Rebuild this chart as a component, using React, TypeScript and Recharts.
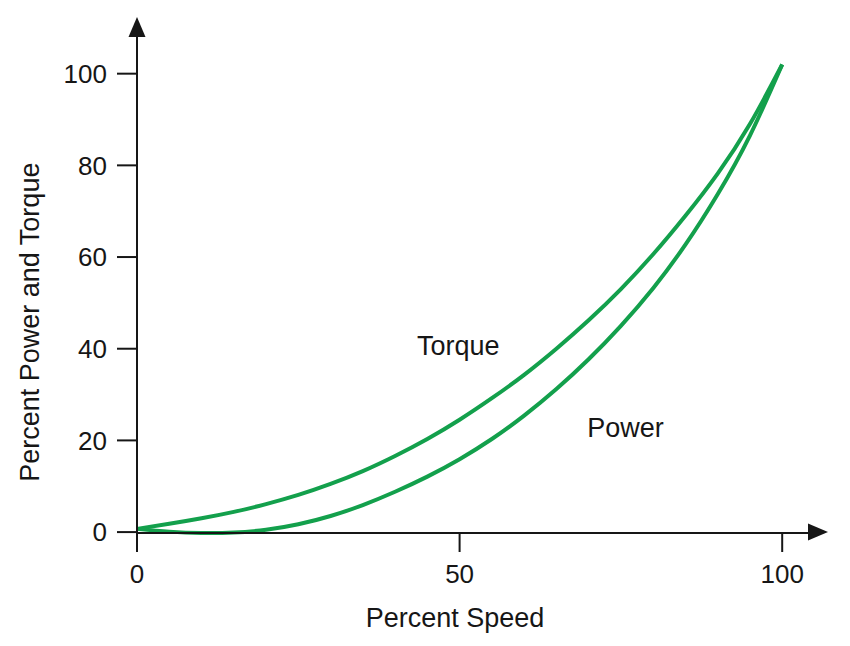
import React from "react";
import {
  LineChart,
  Line,
  XAxis,
  YAxis,
  ReferenceDot,
} from "recharts";

// values
const speed = [0, 5, 10, 15, 20, 25, 30, 35, 40, 45, 50, 55, 60, 65, 70, 75, 80, 85, 90, 95, 100];
const torque = [0.7, 1.8, 3.0, 4.4, 6.1, 8.1, 10.5, 13.3, 16.6, 20.3, 24.5, 29.2, 34.3, 40.0, 46.2, 53.0, 60.6, 69.0, 78.2, 89.0, 102];
const power = [0.7, 0.1, -0.2, -0.1, 0.5, 1.7, 3.5, 5.9, 8.8, 12.1, 15.9, 20.3, 25.4, 31.2, 37.7, 45.0, 53.2, 62.7, 73.7, 86.5, 102];

const xTicks = [0, 50, 100];
const yTicks = [0, 20, 40, 60, 80, 100];

const data = speed.map((s, i) => ({ speed: s, torque: torque[i], power: power[i] }));

const GREEN = "#13a04c";
const INK = "#161616";
const FONT = "'Liberation Sans', Arial, Helvetica, sans-serif";

const tickStyle = { fontSize: 26, fill: INK, fontFamily: FONT };

const UpArrow = (props: any) => {
  const { cx, cy } = props;
  return <path d={`M${cx - 8.5},${cy} L${cx + 8.5},${cy} L${cx},${cy - 20} Z`} fill={INK} />;
};

const RightArrow = (props: any) => {
  const { cx, cy } = props;
  return <path d={`M${cx},${cy - 8.5} L${cx},${cy + 8.5} L${cx + 20},${cy} Z`} fill={INK} />;
};

export default function App() {
  return (
    <div style={{ position: "absolute", left: 0, top: 0, background: "#fff" }}>
      <LineChart
        width={850}
        height={646}
        data={data}
        margin={{ top: 37, right: 42, left: 10, bottom: 33 }}
      >
        <XAxis
          dataKey="speed"
          type="number"
          domain={[0, 104]}
          ticks={xTicks}
          height={80}
          tick={tickStyle}
          tickSize={19}
          tickMargin={13}
          axisLine={{ stroke: INK, strokeWidth: 2 }}
          tickLine={{ stroke: INK, strokeWidth: 2 }}
          label={{
            content: (p: any) => {
              const vb = p.viewBox;
              return (
                <text
                  x={vb.x + vb.width * 0.474}
                  y={627}
                  textAnchor="middle"
                  fontSize={27}
                  fill={INK}
                  fontFamily={FONT}
                >
                  Percent Speed
                </text>
              );
            },
          }}
        />
        <YAxis
          type="number"
          domain={[0, 108]}
          ticks={yTicks}
          width={127}
          tick={tickStyle}
          tickSize={20}
          tickMargin={10}
          axisLine={{ stroke: INK, strokeWidth: 2 }}
          tickLine={{ stroke: INK, strokeWidth: 2 }}
          label={{
            content: (p: any) => {
              const vb = p.viewBox;
              const cx = vb.x + 20;
              const cy = vb.y + vb.height * 0.575;
              return (
                <text
                  x={cx}
                  y={cy}
                  transform={`rotate(-90, ${cx}, ${cy})`}
                  textAnchor="middle"
                  dominantBaseline="central"
                  fontSize={27}
                  fill={INK}
                  fontFamily={FONT}
                >
                  Percent Power and Torque
                </text>
              );
            },
          }}
        />
        <Line
          type="natural"
          dataKey="torque"
          stroke={GREEN}
          strokeWidth={4}
          dot={false}
          isAnimationActive={false}
        />
        <Line
          type="natural"
          dataKey="power"
          stroke={GREEN}
          strokeWidth={4}
          dot={false}
          isAnimationActive={false}
        />
        <ReferenceDot
          x={49.8}
          y={40.8}
          r={0}
          ifOverflow="visible"
          label={{ value: "Torque", position: "center", fontSize: 27, fill: INK, fontFamily: FONT }}
        />
        <ReferenceDot
          x={75.7}
          y={22.8}
          r={0}
          ifOverflow="visible"
          label={{ value: "Power", position: "center", fontSize: 27, fill: INK, fontFamily: FONT }}
        />
        <ReferenceDot x={0} y={108} ifOverflow="visible" shape={UpArrow} />
        <ReferenceDot x={104} y={0} ifOverflow="visible" shape={RightArrow} />
      </LineChart>
    </div>
  );
}
